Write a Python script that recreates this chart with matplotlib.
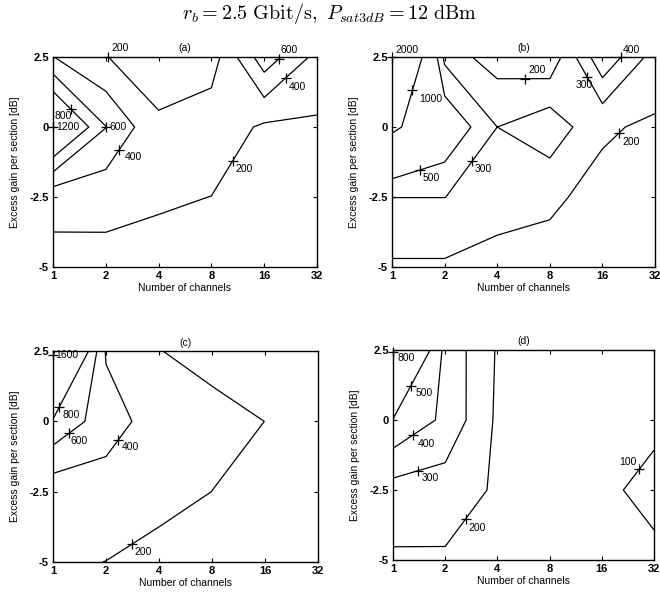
import numpy as np
import matplotlib.pyplot as plt

plt.rcParams["font.family"] = ["Liberation Sans", "DejaVu Sans"]
plt.rcParams["mathtext.fontset"] = "cm"

# grid of the simulation
channels = [1, 2, 4, 8, 16, 32]
gain_db = [-5, -2.5, 0, 2.5]
gain_ticks = [-5, -2.5, 0, 2.5]

# contour values, rows = gain -5, -2.5, 0, 2.5 ; columns = channels 1..32
z_a = [[140, 134, 110, 100, 80, 90],
       [260, 267, 230, 198, 120, 130],
       [1210, 605, 230, 327, 167, 171],
       [405, 205, 105, 100, 720, 340]]
z_b = [[186, 186, 150, 175, 120, 110],
       [301, 301, 260, 212, 178, 140],
       [1067, 700, 300, 370, 210, 187],
       [2010, 250, 155, 124, 480, 255]]
z_c = [[230, 198, 130, 120, 100, 90],
       [270, 313, 270, 199, 140, 110],
       [770, 487, 309, 260, 199, 150],
       [1650, 380, 205, 140, 120, 100]]
z_d = [[186, 188, 150, 140, 125, 115],
       [260, 250, 187.5, 150, 114, 80],
       [495, 378, 183, 155, 130, 115],
       [810, 373, 191, 160, 130, 125]]

levels_a = [200, 400, 600, 800, 1200]
levels_b = [200, 300, 400, 500, 1000, 2000]
levels_c = [200, 400, 600, 800, 1600]
levels_d = [100, 200, 300, 400, 500, 800]

# levels that the original only traced from a given channel count upwards
partial_b = {400: 8}

# label spots: (level, channels, gain) + text offset in pixels
labels_a = [(200, 1.93, 2.5, 3, 9), (1200, 1.0, 0.0, 3, 0), (800, 1.26, 0.64, -16, -7),
            (600, 2.0, 0.0, 3, 0), (400, 2.41, -0.82, 5, -7), (200, 10.9, -1.24, 2, -8),
            (600, 19.3, 2.43, 2, 9), (400, 21.1, 1.78, 3, -9)]
labels_b = [(2000, 1.0, 2.5, 3, 7), (1000, 1.3, 1.31, 7, -9), (500, 1.43, -1.48, 3, -8),
            (300, 2.9, -1.24, 2, -8), (200, 5.8, 1.71, 3, 9), (300, 12.3, 1.69, -12, -8),
            (400, 21.4, 2.5, 2, 7), (200, 21.0, -0.34, 3, -9)]
labels_c = [(1600, 1.0, 2.28, 2, 0), (800, 1.09, 0.52, 3, -8), (600, 1.23, -0.43, 2, -8),
            (400, 2.34, -0.64, 3, -7), (200, 2.83, -4.36, 2, -8)]
labels_d = [(800, 1.03, 2.17, 4, -6), (500, 1.26, 1.21, 5, -7), (400, 1.3, -0.5, 4, -9),
            (300, 1.4, -1.79, 3, -7), (200, 2.6, -3.5, 3, -9), (100, 26.0, -1.73, -20, 7)]

panels = [("(a)", z_a, levels_a, {}, labels_a, [0.0803, 0.5505, 0.400, 0.3535]),
          ("(b)", z_b, levels_b, partial_b, labels_b, [0.594, 0.5505, 0.3985, 0.3535]),
          ("(c)", z_c, levels_c, {}, labels_c, [0.0803, 0.0539, 0.4018, 0.355]),
          ("(d)", z_d, levels_d, {}, labels_d, [0.5955, 0.0572, 0.3955, 0.3535])]

xg = np.log2(channels)


def nearest_on_contour(segs, px, py, yscale=0.53):
    best, best_d = (px, py), np.inf
    for seg in segs:
        for p0, p1 in zip(seg[:-1], seg[1:]):
            d = (p1 - p0) * [1, yscale]
            v = (np.array([px, py]) - p0) * [1, yscale]
            t = 0.0 if not d.any() else np.clip(np.dot(v, d) / np.dot(d, d), 0, 1)
            q = p0 + t * (p1 - p0)
            dist = np.hypot(q[0] - px, (q[1] - py) * yscale)
            if dist < best_d:
                best, best_d = q, dist
    return best


fig = plt.figure(figsize=(6.6, 5.94), dpi=100)
fig.patch.set_facecolor("white")

for name, z, levels, partial, labels, rect in panels:
    ax = fig.add_axes(rect)
    z = np.array(z, dtype=float)
    segs = {}
    full = [lv for lv in levels if lv not in partial]
    cs = ax.contour(xg, gain_db, z, levels=full, colors="k", linewidths=0.9)
    for lv, s in zip(full, cs.allsegs):
        segs[lv] = s
    for lv, ch0 in partial.items():
        i0 = channels.index(ch0)
        cp = ax.contour(xg[i0:], gain_db, z[:, i0:], levels=[lv], colors="k", linewidths=0.9)
        segs[lv] = cp.allsegs[0]

    for level, ch, g, dx, dy in labels:
        qx, qy = nearest_on_contour(segs[level], np.log2(ch), g)
        ax.plot(qx, qy, marker="+", color="k", ms=7, mew=0.9, clip_on=False)
        ax.annotate(str(level), (qx, qy), xytext=(dx, dy), textcoords="offset pixels",
                    ha="left", va="center", fontsize=7.5, annotation_clip=False)

    ax.set_xlim(0, 5)
    ax.set_ylim(-5, 2.5)
    ax.set_xticks(xg)
    ax.set_xticklabels([str(c) for c in channels])
    ax.set_yticks(gain_ticks)
    ax.set_yticklabels(["-5", "-2.5", "0", "2.5"])
    ax.tick_params(direction="in", top=True, right=True, length=3, width=0.8,
                   labelsize=8, pad=3)
    for lab in ax.get_xticklabels() + ax.get_yticklabels():
        lab.set_fontweight("bold")
    for sp in ax.spines.values():
        sp.set_linewidth(1.0)
    ax.set_xlabel("Number of channels", fontsize=7.5, labelpad=1)
    ax.set_ylabel("Excess gain per section [dB]", fontsize=7.5, labelpad=7)
    ax.set_title(name, fontsize=7.5, pad=4)

fig.text(0.5, 0.978, r"$r_b = 2.5\ \mathrm{Gbit/s},\ P_{sat3dB} = 12\ \mathrm{dBm}$",
         ha="center", va="center", fontsize=14.5)

fig.savefig("out.png", dpi=100, facecolor="white")
